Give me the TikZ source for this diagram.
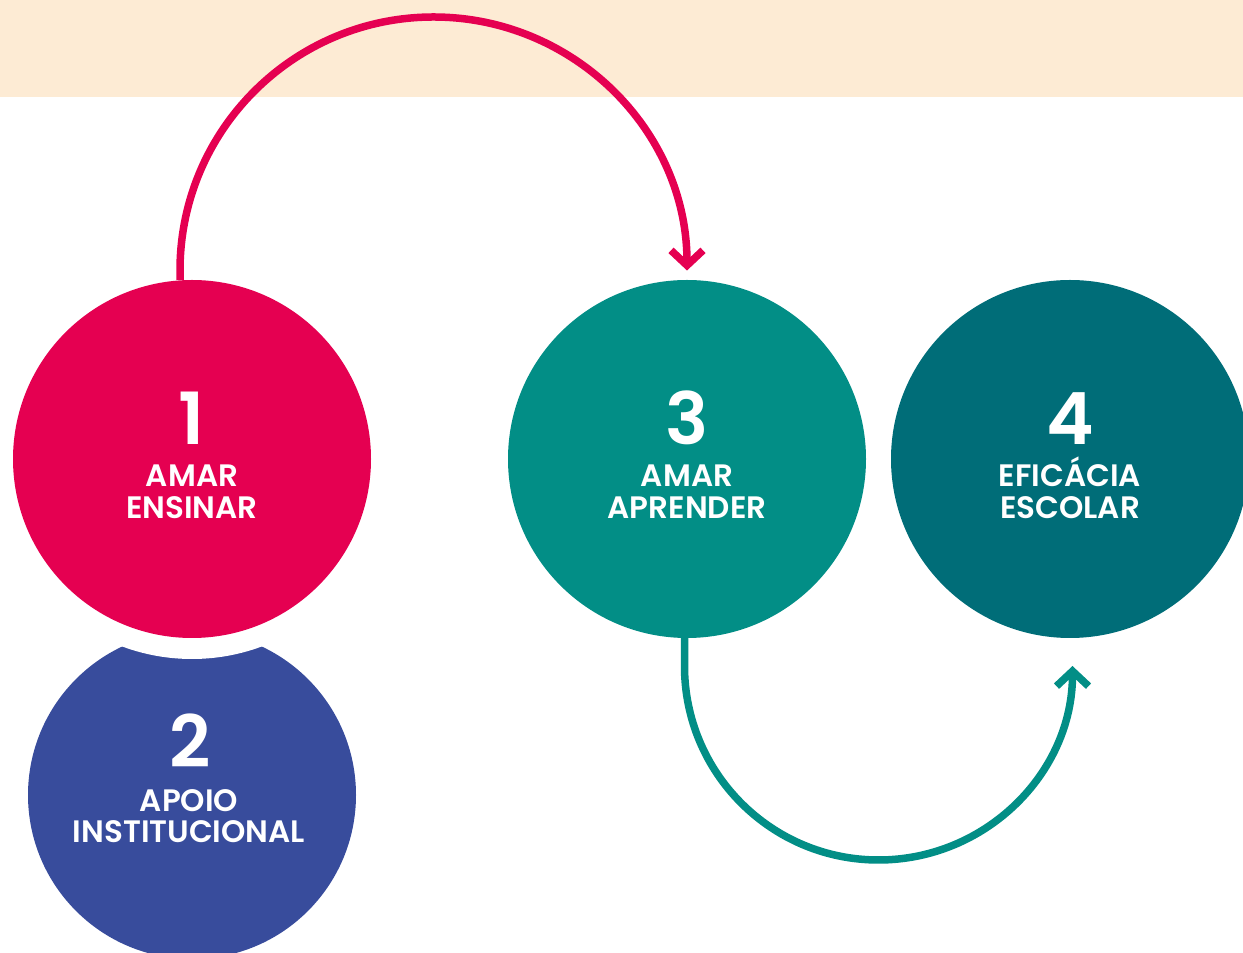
\documentclass[tikz,border=0pt]{standalone}
\usepackage{fontspec}
\setmainfont{Poppins}[BoldFont={Poppins SemiBold}]
\usetikzlibrary{arrows.meta}
\definecolor{peach}{HTML}{FDEBD4}
\definecolor{crimson}{HTML}{E50051}
\definecolor{indigo}{HTML}{384C9C}
\definecolor{tealA}{HTML}{028E86}
\definecolor{tealB}{HTML}{006D78}
\tikzset{
  disc/.style={circle, inner sep=0pt, outer sep=0pt, draw=none},
  numtxt/.style={text=white, anchor=base, inner sep=0pt, font=\bfseries\fontsize{72}{72}\selectfont},
  lbltxt/.style={text=white, anchor=base, inner sep=0pt, font=\bfseries\fontsize{31}{31}\selectfont},
  flowline/.style={line width=7.5pt, -{Straight Barb[length=15pt,width=32pt,line width=7.5pt,line cap=butt]}},
}
\begin{document}
\begin{tikzpicture}[x=1pt,y=1pt]
\useasboundingbox (0,0) rectangle (1243,953);
\clip (0,0) rectangle (1243,953);
\fill[peach] (0,856) rectangle (1243,953);
% circle 2 with cut-out
\node[disc, fill=indigo, minimum size=328pt] (c2) at (192,158) {};
\fill[white] (192,494) circle[radius=200];
\node[disc, fill=crimson, minimum size=358pt] (c1) at (192,494) {};
\node[disc, fill=tealA, minimum size=358pt] (c3) at (687,494) {};
\node[disc, fill=tealB, minimum size=358pt] (c4) at (1070,494) {};
% texts
\node[numtxt] (n1) at (192,508) {1};
\node[lbltxt] (l1a) at (192,466) {AMAR};
\node[lbltxt] (l1b) at (192,434) {ENSINAR};
\node[numtxt] (n2) at (190,185) {2};
\node[lbltxt] (l2a) at (189,141) {APOIO};
\node[lbltxt] (l2b) at (189,110) {INSTITUCIONAL};
\node[numtxt] (n3) at (687,508) {3};
\node[lbltxt] (l3a) at (687,466) {AMAR};
\node[lbltxt] (l3b) at (687,434) {APRENDER};
\node[numtxt] (n4) at (1070,508) {4};
\node[lbltxt] (l4a) at (1070,466) {EFICÁCIA};
\node[lbltxt] (l4b) at (1070,434) {ESCOLAR};
% connectors
\draw[flowline, crimson] ([xshift=-12pt]c1.north) -- ++(0,9.5) arc[start angle=180, end angle=0, radius=253.5];
\draw[flowline, tealA] ([xshift=-2.5pt]c3.south) -- ++(0,-28) arc[start angle=180, end angle=360, radius=194];
\end{tikzpicture}
\end{document}
